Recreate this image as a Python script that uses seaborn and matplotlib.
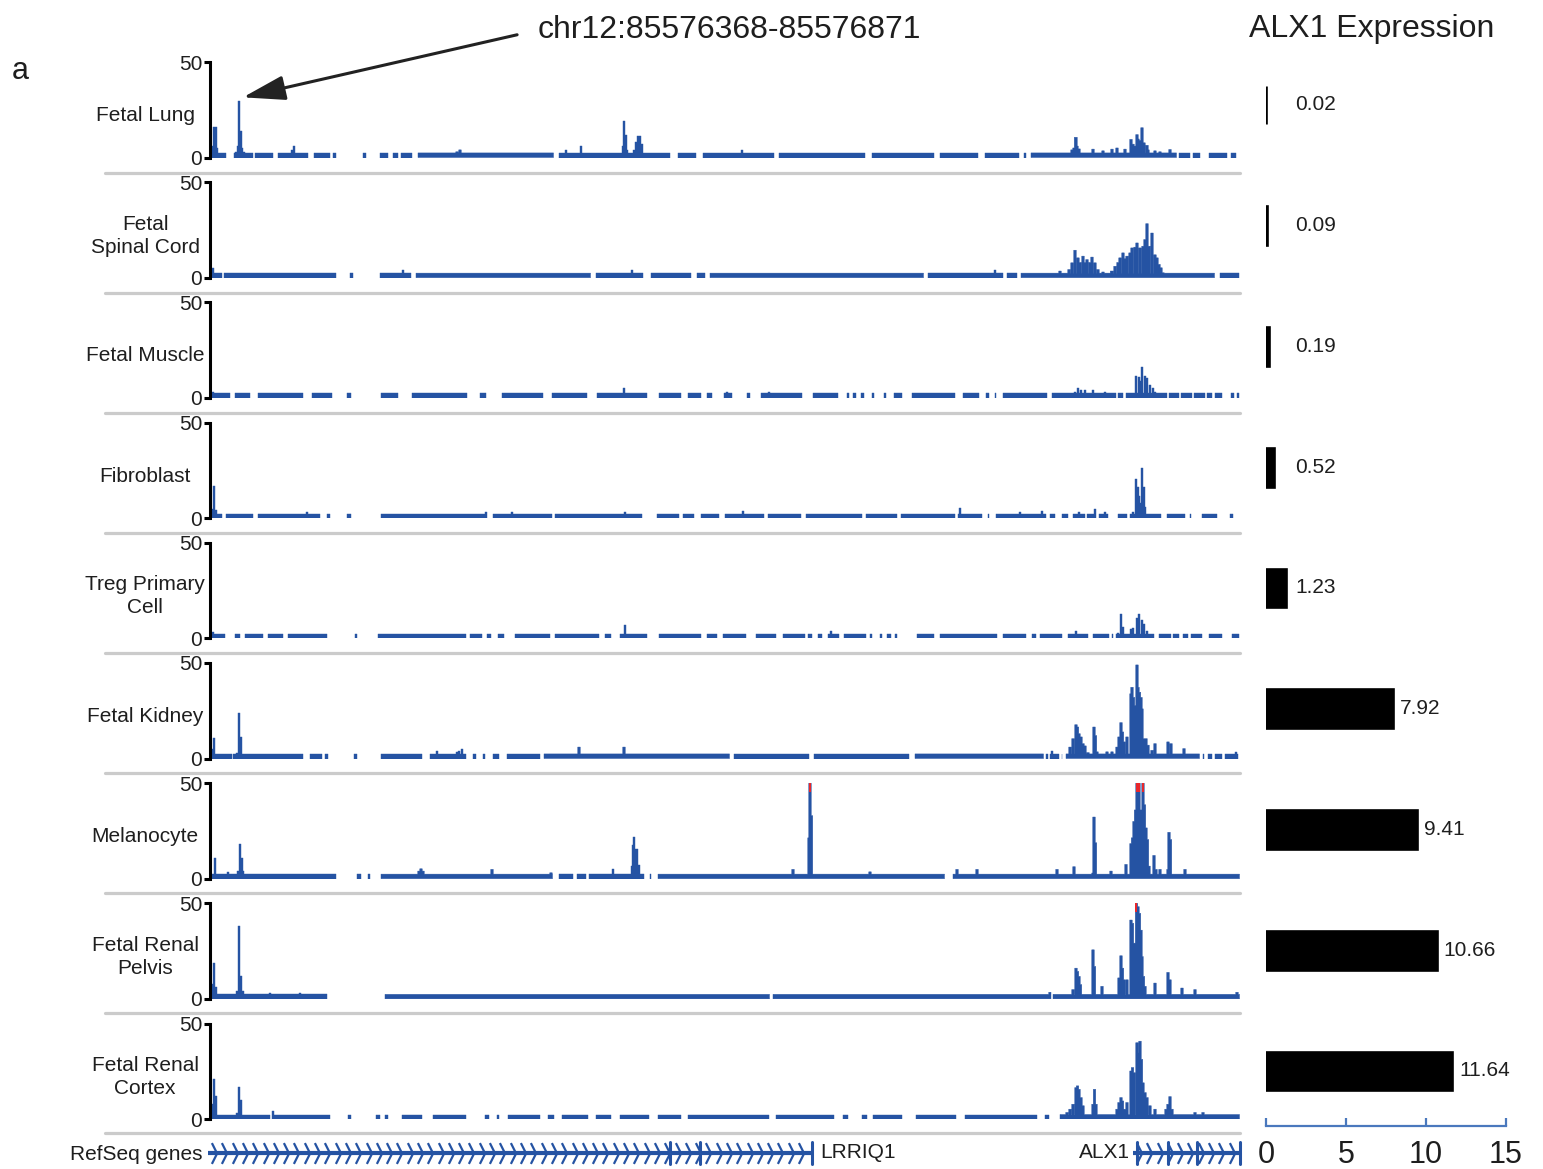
import numpy as np
import matplotlib
matplotlib.use("Agg")
import matplotlib.pyplot as plt
from matplotlib.path import Path
from matplotlib.lines import Line2D
import seaborn as sns

# ---------------- data ----------------
track_names = ["Fetal Lung", "Fetal\nSpinal Cord", "Fetal Muscle", "Fibroblast",
               "Treg Primary\nCell", "Fetal Kidney", "Melanocyte",
               "Fetal Renal\nPelvis", "Fetal Renal\nCortex"]
expression = [0.02, 0.09, 0.19, 0.52, 1.23, 7.92, 9.41, 10.66, 11.64]
expr_labels = ["0.02", "0.09", "0.19", "0.52", "1.23", "7.92", "9.41", "10.66", "11.64"]
expr_ticks = [0, 5, 10, 15]
region_label = "chr12:85576368-85576871"
baseline_level = 2.4

# signal present segments (genomic bin units, 0..1030) and peaks (position, height)
lung_segments = [(0, 16), (24, 43), (45, 63), (68, 98), (104, 120), (123, 126), (153, 156), (170, 178),
                 (183, 188), (191, 203), (208, 344), (349, 461), (468, 487), (493, 565), (569, 656),
                 (662, 725), (730, 769), (775, 810), (814, 817), (821, 967), (969, 981), (983, 991),
                 (999, 1018), (1021, 1027)]
lung_peaks = [(2, 6), (4, 16), (5.5, 16), (7, 5), (26, 3), (28, 6), (29, 29.5), (30.5, 14), (32, 5),
              (34, 3), (82, 4), (84, 6), (247, 3), (250, 4), (356, 4), (371, 6), (413, 6), (414, 19),
              (415.5, 12), (417, 4), (424, 4), (426, 8), (428, 11), (430, 11), (432, 7), (532, 4),
              (862, 4), (864, 5), (865.7, 10.6), (867, 6), (869, 4.5), (883, 4.4), (893, 3.5),
              (902, 4.4), (907, 5), (915, 4.4), (921, 9.5), (923, 7), (925, 6), (927, 12), (928, 9.7),
              (930, 9), (932, 15.6), (934, 7.7), (937, 6.4), (938, 4), (945, 3.5), (950, 3), (960, 4.2)]

spinal_segments = [(0, 12), (14, 126), (140, 143), (170, 202), (206, 381), (386, 434), (441, 482),
                   (487, 496), (500, 714), (718, 794), (797, 808), (811, 1005), (1010, 1030)]
spinal_peaks = [(3, 5), (193, 4), (422, 4), (785, 4), (850, 3.5), (859, 4.3), (862, 7.8), (865, 14.4),
                (868, 10.4), (870, 8), (873, 11.3), (875, 8), (877, 9.5), (880, 8), (882, 10.8),
                (885, 7.8), (888, 4.3), (893, 3), (901.7, 3.5), (905, 6), (908, 8), (910, 10.4),
                (913, 13), (915, 10), (917, 11.3), (920, 13), (922, 15.6), (925, 16), (927, 18.2),
                (930, 15.6), (933, 16.5), (935, 20), (937, 28.3), (939, 16.5), (942, 23.4), (945, 12),
                (947, 10.4), (949, 7), (951, 5.2), (953, 2.6)]

muscle_segments = [(0, 20), (25, 40), (48, 93), (102, 122), (137, 141), (171, 188), (202, 258), (270, 277),
                   (292, 333), (342, 377), (387, 438), (449, 472), (478, 492), (497, 503), (514, 523),
                   (537, 541), (551, 593), (603, 629), (637, 640), (643, 647), (651, 655), (662, 665),
                   (674, 677), (684, 693), (702, 746), (753, 770), (776, 780), (785, 787), (793, 838),
                   (842, 907), (908, 914), (916, 958), (959, 970), (971, 983), (984, 996), (997, 1003),
                   (1005, 1013), (1021, 1025), (1027, 1030)]
muscle_peaks = [(3, 3), (414, 5.2), (517, 3), (559, 3), (865, 2.9), (868, 5.2), (871, 3.9), (875, 3.9),
                (883, 3.9), (895, 3.3), (923, 2.5), (926, 11.6), (929, 11), (930, 8.7), (932, 16),
                (935, 11.6), (937, 10.6), (940, 6.8), (943, 5.2), (945, 2.9)]

fibro_segments = [(0, 12), (16, 43), (48, 110), (117, 120), (137, 141), (171, 278), (283, 342), (345, 433),
                  (447, 470), (473, 485), (491, 510), (515, 555), (558, 592), (596, 653), (656, 688),
                  (691, 746), (748, 773), (778, 780), (786, 837), (840, 846), (852, 859), (863, 876),
                  (877, 887), (889, 899), (908, 918), (920, 952), (957, 976), (980, 982), (992, 1008),
                  (1020, 1024)]
fibro_peaks = [(2, 5), (4, 17), (6, 4), (97, 3), (276, 3), (302, 3), (415, 3), (533, 3.8), (750, 5.2),
               (810, 3), (832, 3.5), (869, 3), (885, 4.8), (895, 3), (923, 3), (926, 20.3), (927.5, 16.4),
               (929, 11.6), (930.5, 7.7), (932, 26.4), (933.5, 16.4), (935, 5.8)]

treg_segments = [(0, 15), (25, 30), (35, 53), (58, 73), (78, 117), (145, 147), (168, 257), (260, 273),
                 (277, 282), (288, 295), (305, 340), (345, 390), (395, 402), (410, 438), (449, 492),
                 (497, 508), (513, 537), (546, 567), (573, 596), (598, 603), (608, 613), (618, 630),
                 (634, 657), (660, 663), (670, 673), (677, 682), (685, 688), (707, 725), (730, 788),
                 (793, 817), (822, 827), (830, 853), (858, 879), (883, 900), (902, 904), (906, 945),
                 (949, 962), (963, 970), (973, 979), (981, 993), (999, 1013), (1022, 1030)]
treg_peaks = [(3, 3.5), (415, 7), (621, 4), (866, 3.9), (908, 2.9), (911, 12.5), (913, 5.8), (921, 4.8),
              (923, 5.2), (927, 10.6), (929, 12.9), (932, 9.7), (933.5, 7.7), (937, 3.9)]

kidney_segments = [(0, 22), (23, 93), (100, 112), (115, 118), (144, 147), (171, 213), (220, 257),
                   (263, 267), (273, 276), (283, 290), (297, 330), (334, 520), (524, 600), (604, 700),
                   (705, 834), (836, 839), (840, 850), (852, 853), (856, 990), (993, 995), (998, 1003),
                   (1005, 1013), (1015, 1029)]
kidney_peaks = [(2, 5), (4, 10.6), (27, 3), (29, 23.6), (31, 11), (35, 2.3), (83, 2.6), (227, 4),
                (247, 3.5), (249, 4), (252, 5.2), (369, 6), (414, 6), (842, 3.8), (860, 6), (863, 10.4),
                (866, 17.7), (867.5, 16.5), (869, 13), (871, 11.3), (873, 7.8), (875, 6.6), (878, 3.1),
                (884, 16.5), (885.5, 12), (887, 3.5), (897, 3.5), (902, 3.5), (907, 6), (909, 11.3),
                (911, 18.8), (912.5, 13.9), (914, 8.7), (917, 11.3), (921, 33.9), (922, 37.3), (923.5, 32),
                (925, 27.8), (927, 49), (928, 37.3), (929.5, 34.7), (931, 32), (932, 26), (933.5, 10.4),
                (936, 10.4), (938, 7), (942, 4.3), (945, 7.8), (958, 8.7), (961, 7.8), (974, 5.2),
                (1026, 3.5)]

melano_segments = [(0, 126), (147, 151), (158, 160), (171, 343), (349, 363), (367, 376), (379, 435),
                   (440, 442), (448, 735), (743, 1030)]
melano_peaks = [(5, 10.6), (18, 3.6), (28, 4), (30, 18), (31.5, 11), (33, 4), (209, 4), (211, 5.2),
                (213, 4), (282, 4.9), (341, 3.1), (403, 4.9), (422, 6.6), (423, 17.4), (424, 21.9),
                (425.5, 15.6), (427, 15.6), (428.5, 7), (583, 4.9), (599, 21.4), (600, 60), (601.5, 33),
                (660, 3.6), (747, 4.9), (767, 4.9), (847, 4.9), (864, 6.3), (883, 3), (884, 32.3),
                (885.5, 18.8), (901, 4), (916, 7.5), (921, 18.4), (922.5, 21.4), (924, 30), (925.5, 36),
                (927, 60), (929, 60), (931, 36), (933, 60), (934.5, 38.7), (936, 26.6), (937.5, 20.5),
                (939, 6.6), (944, 12.2), (946, 4.9), (950, 4.9), (958, 4.9), (959, 24.3), (960.5, 20.5),
                (975, 4.9)]

pelvis_segments = [(0, 117), (175, 560), (563, 840), (843, 1030)]
pelvis_peaks = [(3, 8), (4, 18.7), (6, 6), (27, 4), (29, 38), (31, 12), (33, 4), (60, 3), (90, 3),
                (840, 3.5), (863, 4.9), (866, 16.1), (867.5, 14.4), (869, 11.8), (870.5, 7.5), (883, 25.7),
                (884.5, 17), (892, 6.6), (909, 11), (911, 22.6), (912.5, 16.1), (914, 10), (917, 10),
                (921, 41.3), (922.5, 39.6), (924, 13.5), (925, 29.2), (926.5, 60), (928, 48.3),
                (929.5, 44.8), (931, 36), (932, 22.2), (933.5, 11.8), (935, 6.6), (945, 8.3), (958, 13.9),
                (960, 10), (972, 5.7), (985, 4.9), (1027, 3.5)]

cortex_segments = [(0, 60), (62, 120), (138, 141), (166, 170), (175, 178), (192, 213), (223, 257),
                   (275, 280), (287, 290), (298, 330), (338, 344), (352, 378), (386, 402), (410, 440),
                   (448, 472), (478, 560), (566, 625), (633, 639), (652, 658), (663, 693), (706, 747),
                   (755, 828), (835, 840), (850, 1030)]
cortex_peaks = [(3, 8), (4, 21), (5.5, 12), (27, 3), (29, 16.7), (31, 10), (63, 4), (857, 3.5),
                (860, 5.2), (863, 7.8), (866, 16.5), (867.5, 17.4), (869, 15.6), (871, 11.3), (873, 7),
                (883, 7.8), (884.5, 15.6), (886, 7.8), (907, 5.2), (909, 8.7), (911, 11.3), (912.5, 9.5),
                (915, 5.2), (917, 8.7), (921, 25.2), (922.5, 27), (924, 24.3), (927, 40), (928.5, 34.7),
                (930, 40.8), (931.5, 31.3), (933, 19), (935, 13.9), (937, 11.3), (940, 7), (945, 5.2),
                (956, 5.2), (958, 7.8), (960, 11.8), (962, 5.2), (985, 3.5), (993, 3.5)]

# RefSeq genes: (name, start, end, exon positions)
gene_names = ["LRRIQ1", "ALX1"]
gene_starts = [-2, 923]
gene_ends = [603, 1032]
gene_exons = [[460, 490, 602], [927, 958, 987, 1030]]

# ---------------- style ----------------
sns.set_theme(style="white")
plt.rcParams["font.family"] = ["Liberation Sans", "DejaVu Sans"]
TXT = "#1e1e1e"
BLUE = "#2553a3"
RED = "#e8262b"
W, H = 1543, 1169
PEAK_HALF_WIDTH = 1.4


def rect(left, top, right, bottom):
    return [left / W, 1 - bottom / H, (right - left) / W, (bottom - top) / H]


fig = plt.figure(figsize=(W / 100, H / 100), dpi=100)

all_segments = [lung_segments, spinal_segments, muscle_segments, fibro_segments, treg_segments,
                kidney_segments, melano_segments, pelvis_segments, cortex_segments]
all_peaks = [lung_peaks, spinal_peaks, muscle_peaks, fibro_peaks, treg_peaks,
             kidney_peaks, melano_peaks, pelvis_peaks, cortex_peaks]

XMAX = 1030
xgrid = np.arange(0, XMAX, 0.5)
track_axes = []
for k, name in enumerate(track_names):
    top = 62 + 120.2 * k
    bot = 157.5 + 120.2 * k
    ax = fig.add_axes(rect(210, top, 1240, bot))
    track_axes.append(ax)
    sig = np.full(xgrid.shape, np.nan)
    for s, e in all_segments[k]:
        sig[(xgrid >= s) & (xgrid < e)] = baseline_level
    for p, h in all_peaks[k]:
        m = np.abs(xgrid - p) <= PEAK_HALF_WIDTH
        sig[m] = np.fmax(sig[m], h)
    present = ~np.isnan(sig)
    vals = np.where(present, np.minimum(sig, 50), 0)
    ax.fill_between(xgrid, 0, vals, where=present, step="mid", color=BLUE, lw=0.3, edgecolor=BLUE)
    clipped = present & (sig > 50)
    if clipped.any():
        ax.fill_between(xgrid, 45.5, 50, where=clipped, step="mid", color=RED, lw=0)
    ax.set_xlim(0, XMAX)
    ax.set_ylim(0, 50)
    ax.set_yticks([0, 50])
    ax.set_yticklabels(["0", "50"], fontsize=15, color=TXT)
    ax.set_xticks([])
    for sp in ["top", "right", "bottom"]:
        ax.spines[sp].set_visible(False)
    ax.spines["left"].set_linewidth(2.2)
    ax.spines["left"].set_color("black")
    ax.tick_params(axis="y", direction="out", length=4.5, width=2.2, pad=1, colors="black",
                   labelcolor=TXT, left=True)
    ax.patch.set_alpha(0)
    ax.text(-0.063, 0.44, name, transform=ax.transAxes, ha="center", va="center",
            fontsize=15, color=TXT, linespacing=1.25)

# separators
for k in range(9):
    y = 1 - (173 + 120 * k) / H
    fig.add_artist(Line2D([105 / W, 1240 / W], [y, y], color="#cbcbcb", lw=2.3))

# gene track
axg = fig.add_axes(rect(210, 1138, 1240, 1168))
axg.set_xlim(0, XMAX)
axg.set_ylim(-1, 1)
axg.axis("off")
chev = Path([(-0.25, 1), (0.25, 0), (-0.25, -1)], [Path.MOVETO, Path.LINETO, Path.LINETO])
for gname, gs, ge, ex in zip(gene_names, gene_starts, gene_ends, gene_exons):
    axg.plot([gs, ge], [0, 0], color=BLUE, lw=3, solid_capstyle="butt", clip_on=False)
    cx = np.arange(gs + 6, ge - 2, 10.3)
    axg.plot(cx, np.zeros_like(cx), ls="none", marker=chev, markersize=15, markerfacecolor="none",
             markeredgecolor=BLUE, markeredgewidth=1.6, clip_on=False)
    for e in ex:
        axg.plot([e, e], [-0.75, 0.75], color=BLUE, lw=2.2, clip_on=False)
axg.text(gene_ends[0] + 7, 0, gene_names[0], ha="left", va="center", fontsize=15, color=TXT)
axg.text(gene_starts[1] - 3, 0, gene_names[1], ha="right", va="center", fontsize=15, color=TXT)
fig.text(203 / W, 1 - 1155 / H, "RefSeq genes", ha="right", va="center", fontsize=15, color=TXT)

# expression panel
axe = fig.add_axes(rect(1266, 44.6, 1506, 1125.7))
sns.barplot(x=expression, y=list(range(len(expression))), orient="h", color="black",
            width=0.32, edgecolor="black", linewidth=1.9, saturation=1, ax=axe)
axe.set_xlim(0, 15)
axe.set_ylim(8.453, -0.5)
axe.set_yticks([])
axe.set_xticks(expr_ticks)
axe.set_xticklabels([str(t) for t in expr_ticks], fontsize=22, color=TXT)
axe.set_xlabel("")
axe.set_ylabel("")
for sp in ["top", "right", "left"]:
    axe.spines[sp].set_visible(False)
axe.spines["bottom"].set_color("#4a78bd")
axe.spines["bottom"].set_linewidth(1.6)
axe.tick_params(axis="x", direction="in", length=6, width=1.6, color="#4a78bd", pad=10, bottom=True)
axe.patch.set_alpha(0)
for i, (v, lab) in enumerate(zip(expression, expr_labels)):
    axe.text(max(v + 0.45, 1.85), i, lab, ha="left", va="center", fontsize=15, color=TXT)

# titles / annotation
fig.text(1372 / W, 1 - 29 / H, "ALX1 Expression", ha="center", va="center", fontsize=23, color=TXT)
fig.text(20 / W, 1 - 71 / H, "a", ha="center", va="center", fontsize=22, color=TXT)
track_axes[0].annotate(region_label, xy=(lung_peaks[6][0] + 4, lung_peaks[6][1] + 2), xycoords="data",
                       xytext=(538 / W, 1 - 30 / H), textcoords="figure fraction",
                       ha="left", va="center", fontsize=23, color=TXT,
                       arrowprops=dict(arrowstyle="-|>,head_length=1.3,head_width=0.38", color="#222222",
                                       lw=2.2, mutation_scale=20, shrinkA=13, shrinkB=0,
                                       relpos=(0, 0.5)))

fig.savefig("out.png", dpi=100)
